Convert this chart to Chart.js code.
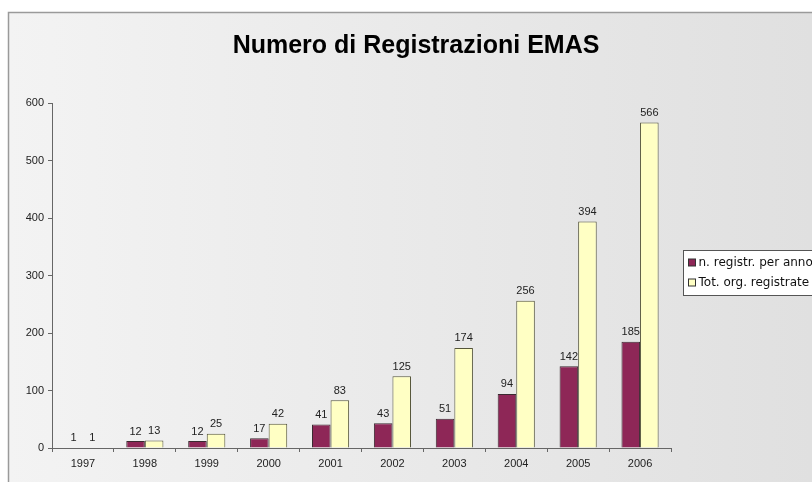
<!DOCTYPE html>
<html>
<head>
<meta charset="utf-8">
<script src="https://cdn.jsdelivr.net/npm/chart.js@4/dist/chart.umd.min.js"></script>
<style>
html,body{margin:0;padding:0;background:#fff;}
#wrap{width:812px;height:482px;position:relative;}
</style>
</head>
<body>
<div id="wrap"><canvas id="c" width="812" height="482"></canvas></div>
<script>
const titleText = "Numero di Registrazioni EMAS";
const categories = ["1997","1998","1999","2000","2001","2002","2003","2004","2005","2006"];
const perAnno = [1,12,12,17,41,43,51,94,142,185];
const totali = [1,13,25,42,83,125,174,256,394,566];
const seriesNames = ["n. registr. per anno","Tot. org. registrate"];
const yTicks = [0,100,200,300,400,500,600];

const FONT = '"Liberation Sans", Arial, sans-serif';

const bgPlugin = {
  id:'bg',
  beforeDraw(chart){
    const ctx = chart.ctx;
    ctx.save();
    ctx.fillStyle = '#ffffff';
    ctx.fillRect(0,0,chart.width,chart.height);
    const g = ctx.createLinearGradient(8,0,chart.width,0);
    g.addColorStop(0,'#f3f3f3');
    g.addColorStop(1,'#e0e0e0');
    ctx.fillStyle = g;
    ctx.fillRect(8,12,chart.width-8,chart.height-12);
    ctx.strokeStyle = '#9a9a9a';
    ctx.lineWidth = 1.5;
    ctx.beginPath();
    ctx.moveTo(8.5,chart.height);
    ctx.lineTo(8.5,12.5);
    ctx.lineTo(chart.width,12.5);
    ctx.stroke();
    ctx.fillStyle = '#000';
    ctx.font = 'bold 25px ' + FONT;
    ctx.textAlign = 'center';
    ctx.textBaseline = 'middle';
    ctx.fillText(titleText, 416, 46);
    ctx.restore();
  }
};

const labelPlugin = {
  id:'vals',
  afterDatasetsDraw(chart){
    const ctx = chart.ctx;
    ctx.save();
    ctx.fillStyle = '#222';
    ctx.font = '11px ' + FONT;
    ctx.textAlign = 'center';
    ctx.textBaseline = 'bottom';
    chart.data.datasets.forEach((ds,i)=>{
      const meta = chart.getDatasetMeta(i);
      meta.data.forEach((bar,j)=>{
        ctx.fillText(String(ds.data[j]), bar.x, bar.y - 4);
      });
    });
    ctx.restore();
  }
};

const legendPlugin = {
  id:'customLegend',
  afterDraw(chart){
    const ctx = chart.ctx;
    ctx.save();
    const x = 683.5, y = 250.5, w = 140, h = 45;
    ctx.fillStyle = '#ffffff';
    ctx.fillRect(x,y,w,h);
    ctx.strokeStyle = '#555';
    ctx.lineWidth = 1;
    ctx.strokeRect(x,y,w,h);
    ctx.font = '12px "DejaVu Sans", sans-serif';
    ctx.textBaseline = 'middle';
    ctx.textAlign = 'left';
    chart.data.datasets.forEach((ds,i)=>{
      const yy = y + 12 + i*20;
      ctx.fillStyle = ds.backgroundColor;
      ctx.fillRect(x+5, yy-3.5, 7, 7);
      ctx.strokeStyle = '#333';
      ctx.strokeRect(x+5, yy-3.5, 7, 7);
      ctx.fillStyle = '#111';
      ctx.fillText(ds.label, x+15, yy);
    });
    ctx.restore();
  }
};

new Chart(document.getElementById('c'), {
  type:'bar',
  data:{
    labels: categories,
    datasets:[
      {label:seriesNames[0], data:perAnno, backgroundColor:'#8e2757', borderColor:'#3a2a30', borderWidth:1},
      {label:seriesNames[1], data:totali, backgroundColor:'#ffffc4', borderColor:'#55553a', borderWidth:1}
    ]
  },
  options:{
    responsive:false,
    animation:false,
    layout:{padding:{left:8, right:141, top:103, bottom:0}},
    datasets:{bar:{categoryPercentage:0.6, barPercentage:1.0}},
    plugins:{legend:{display:false}, title:{display:false}, tooltip:{enabled:false}},
    scales:{
      x:{
        offset:true,
        grid:{display:true, offset:true, drawOnChartArea:false, tickLength:4, color:'#666'},
        border:{display:true, color:'#666', width:1},
        ticks:{color:'#222', font:{size:11, family:FONT}, padding:5, maxRotation:0},
        afterFit(s){ s.height = 34; }
      },
      y:{
        min:0, max:600,
        afterBuildTicks(s){ s.ticks = yTicks.map(v=>({value:v})); },
        grid:{display:true, drawOnChartArea:false, tickLength:4, color:'#666'},
        border:{display:true, color:'#666', width:1},
        ticks:{color:'#222', font:{size:11, family:FONT}, padding:4},
        afterFit(s){ s.width = 44; }
      }
    }
  },
  plugins:[bgPlugin, labelPlugin, legendPlugin]
});
</script>
</body>
</html>
